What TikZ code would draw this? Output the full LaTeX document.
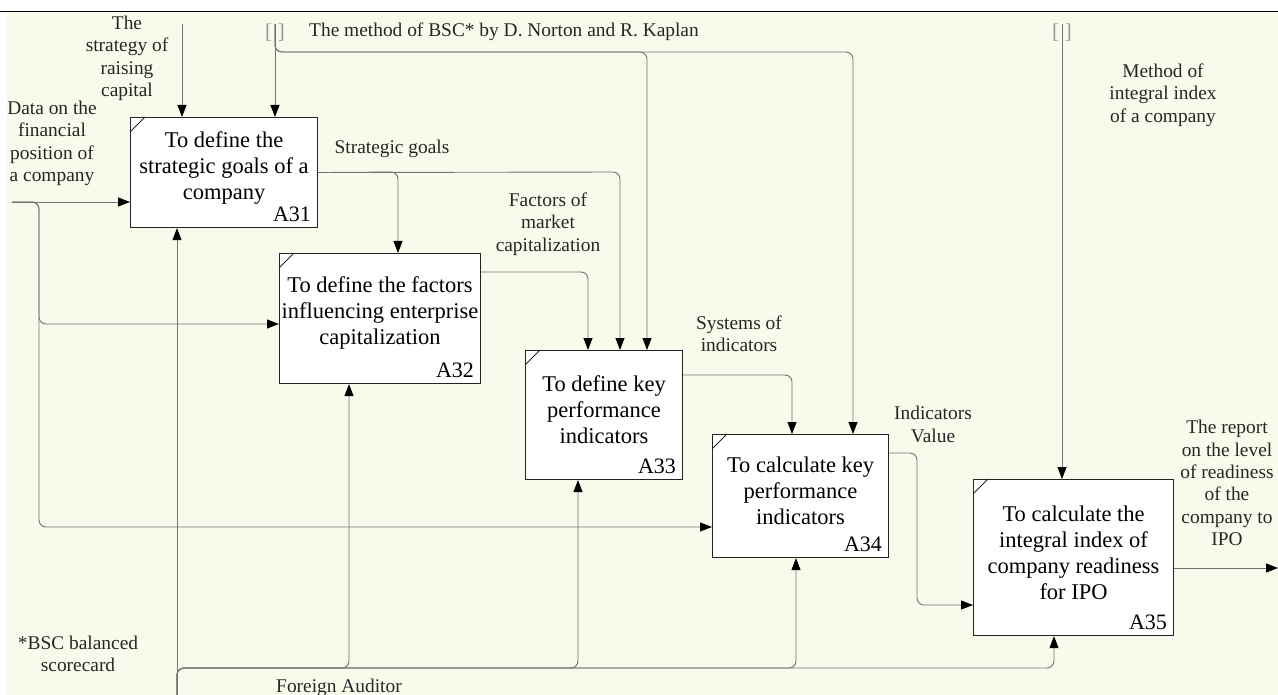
\documentclass[tikz,border=0pt]{standalone}
\usepackage{fontspec}
\setmainfont{Liberation Serif}
\usetikzlibrary{arrows.meta}
\definecolor{bg}{RGB}{250,250,236}
\definecolor{ln}{RGB}{115,115,115}
\definecolor{bx}{RGB}{35,35,35}
\definecolor{brc}{RGB}{150,150,150}
\begin{document}
\begin{tikzpicture}[x=1pt,y=-1pt,
  box/.style={draw=bx, line width=1.1pt, fill=white, inner sep=0pt, anchor=north west},
  corner/.style={draw=bx, line width=0.8pt},
  boxtxt/.style={font=\fontsize{22.5}{26}\selectfont, align=center, inner sep=0pt},
  idtxt/.style={font=\fontsize{22}{26}\selectfont, inner sep=0pt, anchor=base east},
  lbl/.style={font=\fontsize{19.4}{22.4}\selectfont, align=center, inner sep=0pt, text=black!85},
  brk/.style={font=\fontsize{21}{22.4}\selectfont, inner sep=0pt, text=brc},
  conn/.style={draw=ln, line width=0.9pt, rounded corners=7pt},
  arr/.style={conn, -{Triangle[width=9pt,length=12pt,color=black]}}
]
\useasboundingbox (0,0) rectangle (1278,695);
\fill[white] (0,0) rectangle (1278,695);
\fill[bg] (7,12) rectangle (1278,695);
\draw[black, line width=1pt] (0,12) -- (1278,12);

% boxes
\node[box, minimum width=187pt, minimum height=110pt] (A31) at (130,117) {};
\node[box, minimum width=201pt, minimum height=130pt] (A32) at (279,253) {};
\node[box, minimum width=157pt, minimum height=129pt] (A33) at (525,350) {};
\node[box, minimum width=176pt, minimum height=123pt] (A34) at (712,434) {};
\node[box, minimum width=200pt, minimum height=156pt] (A35) at (973,479) {};

\foreach \b in {A31,A32,A33,A34,A35}{
  \draw[corner] ([yshift=-15pt]\b.north west) -- ([xshift=15pt]\b.north west);
}

\node[boxtxt] (A31t) at ([yshift=5pt]A31.center) {To define the\\strategic goals of a\\company};
\node[boxtxt] (A32t) at ([yshift=6pt]A32.center) {To define the factors\\influencing enterprise\\capitalization};
\node[boxtxt] (A33t) at ([yshift=5pt]A33.center) {To define key\\performance\\indicators};
\node[boxtxt] (A34t) at ([yshift=5pt]A34.center) {To calculate key\\performance\\indicators};
\node[boxtxt] (A35t) at ([yshift=5pt]A35.center) {To calculate the\\integral index of\\company readiness\\for IPO};

\node[idtxt] (A31id) at ([xshift=-7pt,yshift=7pt]A31.south east) {A31};
\node[idtxt] (A32id) at ([xshift=-7pt,yshift=7pt]A32.south east) {A32};
\node[idtxt] (A33id) at ([xshift=-7pt,yshift=7pt]A33.south east) {A33};
\node[idtxt] (A34id) at ([xshift=-7pt,yshift=7pt]A34.south east) {A34};
\node[idtxt] (A35id) at ([xshift=-7pt,yshift=7pt]A35.south east) {A35};

% helper coordinates
\coordinate (s0) at (182,24);
\coordinate (b1t) at (275,24);
\coordinate (b1k) at (275,52);
\coordinate (m1) at (647,52);
\coordinate (m2) at (853,52);
\coordinate (b2t) at (1062,24);
\coordinate (d0) at (12,202);
\coordinate (dk) at (39,202);
\coordinate (d1) at (39,324);
\coordinate (d2) at (39,527);
\coordinate (f0) at (177,695);
\coordinate (fk) at (177,668);
\coordinate (f1) at (349,668);
\coordinate (f2) at (578,668);
\coordinate (f3) at (796,668);
\coordinate (f4) at (1054,668);
\coordinate (g1) at (398,172);
\coordinate (g2) at (620,172);
\coordinate (y272) at (0,272);
\coordinate (h1) at (588,272);
\coordinate (y375) at (0,375);
\coordinate (k1) at (792,375);
\coordinate (y453) at (0,453);
\coordinate (v1) at (917,453);
\coordinate (v2) at (917,605);
\coordinate (y568) at (0,568);
\coordinate (outE) at (1278,568);

% brackets
\node[brk] (b1) at (275,33) {[\hspace{6pt}]};
\node[brk] (b2) at (1062,33) {[\hspace{6pt}]};

% controls
\draw[arr] (s0) -- (s0 |- A31.north);
\draw[arr] (b1t) -- (b1t |- A31.north);
\draw[arr] (b1t) -- (b1k) -- (m1) -- (m1 |- A33.north);
\draw[arr] (b1t) -- (b1k) -- (m2) -- (m2 |- A34.north);
\draw[arr] (b2t) -- (b2t |- A35.north);

% inputs
\draw[arr] (d0) -- (d0 -| A31.west);
\draw[arr] (d0) -- (dk) -- (d1) -- (d1 -| A32.west);
\draw[arr] (d0) -- (dk) -- (d2) -- (d2 -| A34.west);

% mechanisms
\draw[arr] (f0) -- (f0 |- A31.south);
\draw[arr] (f0) -- (fk) -- (f1) -- (f1 |- A32.south);
\draw[arr] (f0) -- (fk) -- (f2) -- (f2 |- A33.south);
\draw[arr] (f0) -- (fk) -- (f3) -- (f3 |- A34.south);
\draw[arr] (f0) -- (fk) -- (f4) -- (f4 |- A35.south);

% outputs
\draw[arr] (A31.east) -- (g1) -- (g1 |- A32.north);
\draw[arr] (A31.east) -- (g2) -- (g2 |- A33.north);
\draw[arr] (A32.east |- y272) -- (h1) -- (h1 |- A33.north);
\draw[arr] (A33.east |- y375) -- (k1) -- (k1 |- A34.north);
\draw[arr] (A34.east |- y453) -- (v1) -- (v2) -- (v2 -| A35.west);
\draw[arr] (A35.east |- y568) -- (outE);

% labels
\node[lbl] (Lstrat) at (127,58.5) {The\\strategy of\\raising\\capital};
\node[lbl] (Ldata) at (52,143.5) {Data on the\\financial\\position of\\a company};
\node[lbl, anchor=west] (Lbsc) at (309,32) {The method of BSC* by D. Norton and R. Kaplan};
\node[lbl] (Lsg) at (392,149) {Strategic goals};
\node[lbl] (Lfac) at (548,224) {Factors of\\market\\capitalization};
\node[lbl] (Lsys) at (739,334) {Systems of\\indicators};
\node[lbl] (Lind) at (933,424.5) {Indicators\\Value};
\node[lbl] (Lmeth) at (1163,95) {Method of\\integral index\\of a company};
\node[lbl] (Lrep) at (1227,483) {The report\\on the level\\of readiness\\of the\\company to\\IPO};
\node[lbl] (Lnote) at (78,654) {*BSC balanced\\scorecard};
\node[lbl] (Laud) at (339,688) {Foreign Auditor};
\end{tikzpicture}
\end{document}
